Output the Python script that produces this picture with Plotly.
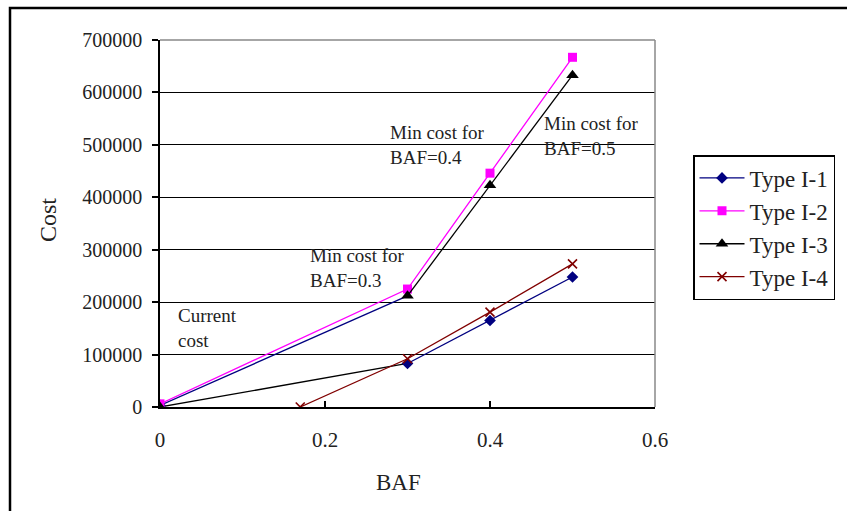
import plotly.graph_objects as go

baf = [0, 0.3, 0.4, 0.5]
type_i1 = [3000, 83000, 165000, 248000]
type_i2 = [6000, 225000, 446000, 667000]
type_i3 = [0, 212000, 423000, 633000]
baf_i4 = [0.17, 0.3, 0.4, 0.5]
type_i4 = [0, 92000, 181000, 273000]

FONT = "Liberation Serif"
TXT = "#222222"

fig = go.Figure()

# first-segment connectors (as drawn in the original: lines from origin cross over)
fig.add_trace(go.Scatter(x=[baf[0], baf[1]], y=[type_i1[0], type_i3[1]], mode="lines",
                         line=dict(color="#000080", width=1.3), showlegend=False, hoverinfo="skip"))
fig.add_trace(go.Scatter(x=[baf[0], baf[1]], y=[type_i3[0], type_i1[1]], mode="lines",
                         line=dict(color="#000000", width=1.3), showlegend=False, hoverinfo="skip"))

fig.add_trace(go.Scatter(x=[baf[0], None] + baf[1:], y=[type_i1[0], None] + type_i1[1:],
                         mode="lines+markers", name="Type I-1", connectgaps=False, legendgroup="a",
                         line=dict(color="#000080", width=1.3),
                         marker=dict(symbol="diamond", size=9, color="#000080")))
fig.add_trace(go.Scatter(x=baf, y=type_i2, mode="lines+markers", name="Type I-2", legendgroup="b",
                         line=dict(color="#FF00FF", width=1.3),
                         marker=dict(symbol="square", size=9, color="#FF00FF")))
fig.add_trace(go.Scatter(x=[baf[0], None] + baf[1:], y=[type_i3[0], None] + type_i3[1:],
                         mode="lines+markers", name="Type I-3", connectgaps=False, legendgroup="c",
                         line=dict(color="#000000", width=1.3),
                         marker=dict(symbol="triangle-up", size=11, color="#000000")))
fig.add_trace(go.Scatter(x=baf_i4, y=type_i4, mode="lines+markers", name="Type I-4", legendgroup="d",
                         line=dict(color="#800000", width=1.3),
                         marker=dict(symbol="x-thin", size=9, color="#800000",
                                     line=dict(color="#800000", width=1.6))))

fig.update_layout(
    width=847, height=511,
    margin=dict(l=160, r=192, t=40, b=104),
    paper_bgcolor="white", plot_bgcolor="white",
    font=dict(family=FONT, color=TXT, size=18),
    showlegend=True,
    legend=dict(x=(693 - 160) / 495, y=(407 - 155) / 367, xanchor="left", yanchor="top",
                bordercolor="#000000", borderwidth=1.5, bgcolor="white",
                font=dict(family=FONT, size=23, color=TXT), tracegroupgap=0,
                itemwidth=45),
    xaxis=dict(range=[0, 0.6], tickvals=[0, 0.2, 0.4, 0.6], ticktext=["0", "0.2", "0.4", "0.6"],
               showgrid=False, zeroline=False, showline=True, linecolor="#000000", linewidth=1.5,
               ticks="inside", ticklen=6, tickcolor="#000000", tickwidth=1.5,
               ticklabelstandoff=13, tickfont=dict(size=21, family=FONT, color=TXT)),
    yaxis=dict(range=[0, 700000], tickvals=[0, 100000, 200000, 300000, 400000, 500000, 600000, 700000],
               ticktext=["0", "100000", "200000", "300000", "400000", "500000", "600000", "700000"],
               showgrid=True, gridcolor="#000000", gridwidth=1, zeroline=False,
               showline=True, linecolor="#000000", linewidth=1.5,
               ticks="outside", ticklen=6, tickcolor="#000000", tickwidth=1.5,
               ticklabelstandoff=6,
               tickfont=dict(size=20, family=FONT, color=TXT)),
)

# plot-area top and right border (gray)
fig.add_shape(type="line", xref="paper", yref="paper", x0=0, x1=1, y0=1, y1=1,
              line=dict(color="#888888", width=1.5))
fig.add_shape(type="line", xref="paper", yref="paper", x0=1, x1=1, y0=0, y1=1,
              line=dict(color="#888888", width=1.5))
# outer chart border
fig.add_shape(type="rect", xref="paper", yref="paper",
              x0=(10 - 160) / 495, x1=(900 - 160) / 495,
              y0=(407 - 560) / 367, y1=1 + (40 - 8) / 367,
              line=dict(color="#000000", width=2.5))

annos = [
    ("Current<br>cost", 0.019, 150000),
    ("Min cost for<br>BAF=0.3", 0.179, 265000),
    ("Min cost for<br>BAF=0.4", 0.276, 499000),
    ("Min cost for<br>BAF=0.5", 0.463, 516000),
]
for t, ax, ay in annos:
    fig.add_annotation(text=t, x=ax, y=ay, xref="x", yref="y", xanchor="left", yanchor="middle",
                       align="left", showarrow=False, font=dict(size=19, family=FONT, color=TXT))

fig.add_annotation(text="Cost", xref="paper", yref="paper", x=(48 - 160) / 495, y=(407 - 220) / 367,
                   textangle=-90, showarrow=False, xanchor="center", yanchor="middle",
                   font=dict(size=24, family=FONT, color=TXT))
fig.add_annotation(text="BAF", xref="paper", yref="paper", x=(398 - 160) / 495, y=(407 - 482) / 367,
                   showarrow=False, xanchor="center", yanchor="middle",
                   font=dict(size=23, family=FONT, color=TXT))

fig.write_html("out.html")
